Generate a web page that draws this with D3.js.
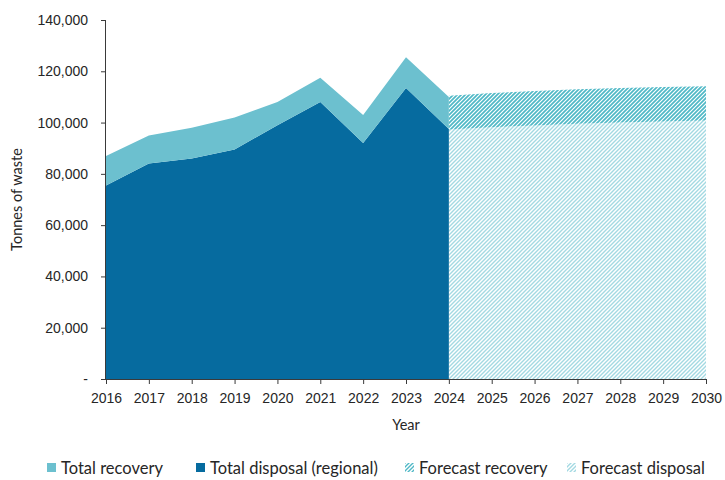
<!DOCTYPE html>
<html>
<head>
<meta charset="utf-8">
<script src="https://cdn.jsdelivr.net/npm/d3@7"></script>
<style>
  html, body { margin: 0; padding: 0; background: #fff; }
  svg { display: block; font-family: Lato, "Open Sans", sans-serif; }
</style>
</head>
<body>
<svg id="chart" width="725" height="480"></svg>
<script>
// Historical tonnages (actuals)
const years = [2016, 2017, 2018, 2019, 2020, 2021, 2022, 2023, 2024];
const disposal = [75500, 84000, 86000, 89500, 99000, 108000, 92000, 113500, 97500];
const recovery = [11500, 11000, 12000, 12500, 9000, 9500, 11000, 12000, 12500];

// Forecast tonnages
const forecastYears = [2024, 2025, 2026, 2027, 2028, 2029, 2030];
const forecastDisposal = [97300, 98200, 98900, 99500, 100000, 100400, 100800];
const forecastRecovery = [13200, 13300, 13400, 13500, 13500, 13500, 13400];

// Axis ticks
const yTicks = [0, 20000, 40000, 60000, 80000, 100000, 120000, 140000];
const xTicks = [2016, 2017, 2018, 2019, 2020, 2021, 2022, 2023, 2024, 2025, 2026, 2027, 2028, 2029, 2030];

const legendItems = [
  { label: "Total recovery", fill: "#6cc0cf" },
  { label: "Total disposal (regional)", fill: "#066b9f" },
  { label: "Forecast recovery", fill: "url(#hatchRecoveryLegend)" },
  { label: "Forecast disposal", fill: "url(#hatchDisposalLegend)" }
];

const svg = d3.select("#chart");
const plotLeft = 106, plotRight = 706, plotTop = 20, plotBottom = 379;

const x = d3.scaleLinear().domain([2016, 2030]).range([plotLeft, plotRight]);
const y = d3.scaleLinear().domain([0, 140000]).range([plotBottom, plotTop]);

// Hatch patterns
const defs = svg.append("defs");
function hatch(id, color, size, width) {
  const p = defs.append("pattern")
    .attr("id", id)
    .attr("patternUnits", "userSpaceOnUse")
    .attr("width", size).attr("height", size);
  p.append("path")
    .attr("d", `M${-size / 2},${size / 2} L${size / 2},${-size / 2} M0,${size} L${size},0 M${size / 2},${size * 1.5} L${size * 1.5},${size / 2}`)
    .attr("stroke", color)
    .attr("stroke-width", width)
    .attr("fill", "none");
}
hatch("hatchRecovery", "#4fb8c6", 4, 1.7);
hatch("hatchDisposal", "#a3d9e2", 4, 1.4);
hatch("hatchRecoveryLegend", "#4fb8c6", 4, 1.4);
hatch("hatchDisposalLegend", "#a3d9e2", 4, 1.4);

// Stacked actuals and forecast
const actualRows = years.map((yr, i) => ({ year: yr, disposal: disposal[i], recovery: recovery[i] }));
const forecastRows = forecastYears.map((yr, i) => ({ year: yr, disposal: forecastDisposal[i], recovery: forecastRecovery[i] }));
const stack = d3.stack().keys(["disposal", "recovery"]);
const area = d3.area()
  .x(d => x(d.data.year))
  .y0(d => y(d[0]))
  .y1(d => y(d[1]));

const actualStack = stack(actualRows);
const forecastStack = stack(forecastRows);

svg.append("path").attr("d", area(forecastStack[0])).attr("fill", "url(#hatchDisposal)");
svg.append("path").attr("d", area(forecastStack[1])).attr("fill", "url(#hatchRecovery)");
svg.append("path").attr("d", area(actualStack[0])).attr("fill", "#066b9f");
svg.append("path").attr("d", area(actualStack[1])).attr("fill", "#6cc0cf");

// Axes
const axisColor = "#3a3a3a";
const textColor = "#262626";

const yAxis = svg.append("g")
  .attr("transform", `translate(${plotLeft},0)`)
  .call(d3.axisLeft(y).tickValues(yTicks).tickSize(5).tickPadding(13)
    .tickFormat(d => d === 0 ? "-" : d3.format(",")(d)));
yAxis.select(".domain").attr("stroke", axisColor).attr("d", `M-0.5,${plotTop}V${plotBottom}`);
yAxis.selectAll(".tick line").attr("stroke", axisColor);
yAxis.selectAll(".tick text").attr("fill", textColor).style("font-size", "14px");

const xAxis = svg.append("g")
  .attr("transform", `translate(0,${plotBottom})`)
  .call(d3.axisBottom(x).tickValues(xTicks).tickSize(5).tickPadding(9).tickFormat(d3.format("d")));
xAxis.select(".domain").attr("stroke", axisColor).attr("d", `M${plotLeft},0.5H${plotRight}`);
xAxis.selectAll(".tick line").attr("stroke", axisColor);
xAxis.selectAll(".tick text").attr("fill", textColor).style("font-size", "14px");

// Axis titles
svg.append("text")
  .attr("transform", `translate(22,${(plotTop + plotBottom) / 2}) rotate(-90)`)
  .attr("text-anchor", "middle")
  .attr("fill", textColor)
  .style("font-size", "14.5px")
  .text("Tonnes of waste");

svg.append("text")
  .attr("x", 406).attr("y", 430)
  .attr("text-anchor", "middle")
  .attr("fill", textColor)
  .style("font-size", "14.5px")
  .text("Year");

// Legend
const legendX = [47, 196, 405, 567];
const legend = svg.append("g");
legendItems.forEach((item, i) => {
  const g = legend.append("g").attr("transform", `translate(${legendX[i]},463)`);
  g.append("rect").attr("width", 9).attr("height", 9).attr("fill", item.fill);
  g.append("text")
    .attr("x", 14).attr("y", 10.5)
    .attr("fill", textColor)
    .style("font-size", "16.5px")
    .text(item.label);
});
</script>
</body>
</html>
